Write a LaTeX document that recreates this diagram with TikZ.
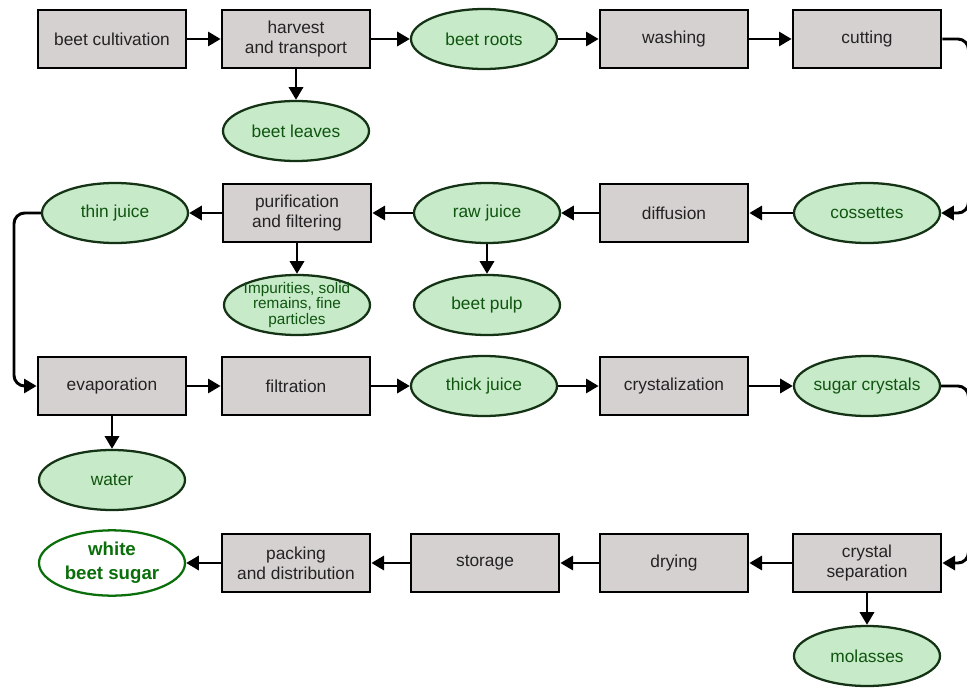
\documentclass[tikz,border=0pt]{standalone}
\usepackage{fontspec}
\setmainfont{Liberation Sans}
\usetikzlibrary{shapes.geometric, arrows.meta}

\definecolor{boxgray}{RGB}{214,209,209}
\definecolor{boxtext}{RGB}{35,35,35}
\definecolor{leafgreen}{RGB}{199,234,201}
\definecolor{leaftext}{RGB}{15,85,15}
\definecolor{leafline}{RGB}{20,50,20}
\definecolor{sugargreen}{RGB}{10,110,10}

\begin{document}
\begin{tikzpicture}[x=0.75pt, y=-0.75pt,
        step box/.style={draw=black, line width=2pt, fill=boxgray, text=boxtext,
                minimum width=111pt, minimum height=43.5pt, inner sep=0pt,
                align=center, font=\fontsize{13}{15}\selectfont},
        product/.style={ellipse, draw=leafline, line width=1.7pt, fill=leafgreen, text=leaftext,
                minimum width=109.5pt, minimum height=45pt, inner xsep=-8pt, inner ysep=0pt,
                align=center, font=\fontsize{13}{15}\selectfont},
        flow/.style={line width=2.2pt, -{Triangle[length=9.5pt, width=10.5pt]}}]
            \useasboundingbox (0,0) rectangle (967,688);
            \clip (0,0) rectangle (967,688);
            \def\R{968.5}

            % first row
            \node[step box] (cult) at (112,39) {beet cultivation};
            \node[step box] (harv) at (296,39) {harvest\\and transport};
            \node[product] (roots) at (484,39) {beet roots};
            \node[step box] (wash) at (674,39) {washing};
            \node[step box] (cut) at (867,39) {cutting};
            \node[product] (leaves) at (296,131) {beet leaves};

            % second row
            \node[product] (thin) at (115,213) {thin juice};
            \node[step box] (puri) at (297,213) {purification\\and filtering};
            \node[product] (raw) at (487,213) {raw juice};
            \node[step box] (diff) at (674,213) {diffusion};
            \node[product] (coss) at (867,213) {cossettes};
            \node[product, inner ysep=-4pt, font=\fontsize{11.5}{11.3}\selectfont] (impur) at (297,305)
                {Impurities, solid\\remains, fine\\particles};
            \node[product] (pulp) at (487,305) {beet pulp};

            % third row
            \node[step box] (evap) at (112,386) {evaporation};
            \node[step box] (filt) at (296,386) {filtration};
            \node[product] (thick) at (484,386) {thick juice};
            \node[step box] (cryst) at (674,386) {crystalization};
            \node[product] (sugar) at (867,386) {sugar crystals};
            \node[product] (water) at (112,480) {water};

            % fourth row
            \node[product, fill=white, draw=sugargreen, text=sugargreen, minimum height=49pt,
                font=\fontsize{14}{18}\selectfont\bfseries] (white) at (112,563) {white\\beet sugar};
            \node[step box] (pack) at (296,563) {packing\\and distribution};
            \node[step box] (stor) at (485,563) {storage};
            \node[step box] (dry) at (674,563) {drying};
            \node[step box] (sep) at (867,563) {crystal\\separation};
            \node[product] (mol) at (867,656) {molasses};

            \foreach \a/\b in {cult/harv, harv/roots, roots/wash, wash/cut,
                    coss/diff, diff/raw, raw/puri, puri/thin,
                    evap/filt, filt/thick, thick/cryst, cryst/sugar,
                    sep/dry, dry/stor, stor/pack, pack/white} {
                    \draw[flow] (\a) -- (\b);
                }

            \foreach \a/\b in {harv/leaves, puri/impur, raw/pulp, evap/water, sep/mol} {
                    \draw[flow] (\a.south) -- (\b.north);
                }

            \draw[flow, rounded corners=8pt] (cut.east) -- (\R,39) -- (\R,213) -- (coss.east);
            \draw[flow, rounded corners=8pt] (sugar.east) -- (\R,386) -- (\R,563) -- (sep.east);
            \draw[flow, rounded corners=8pt] (thin.west) -- (14,213) -- (14,386) -- (evap.west);

        \end{tikzpicture}
\end{document}
